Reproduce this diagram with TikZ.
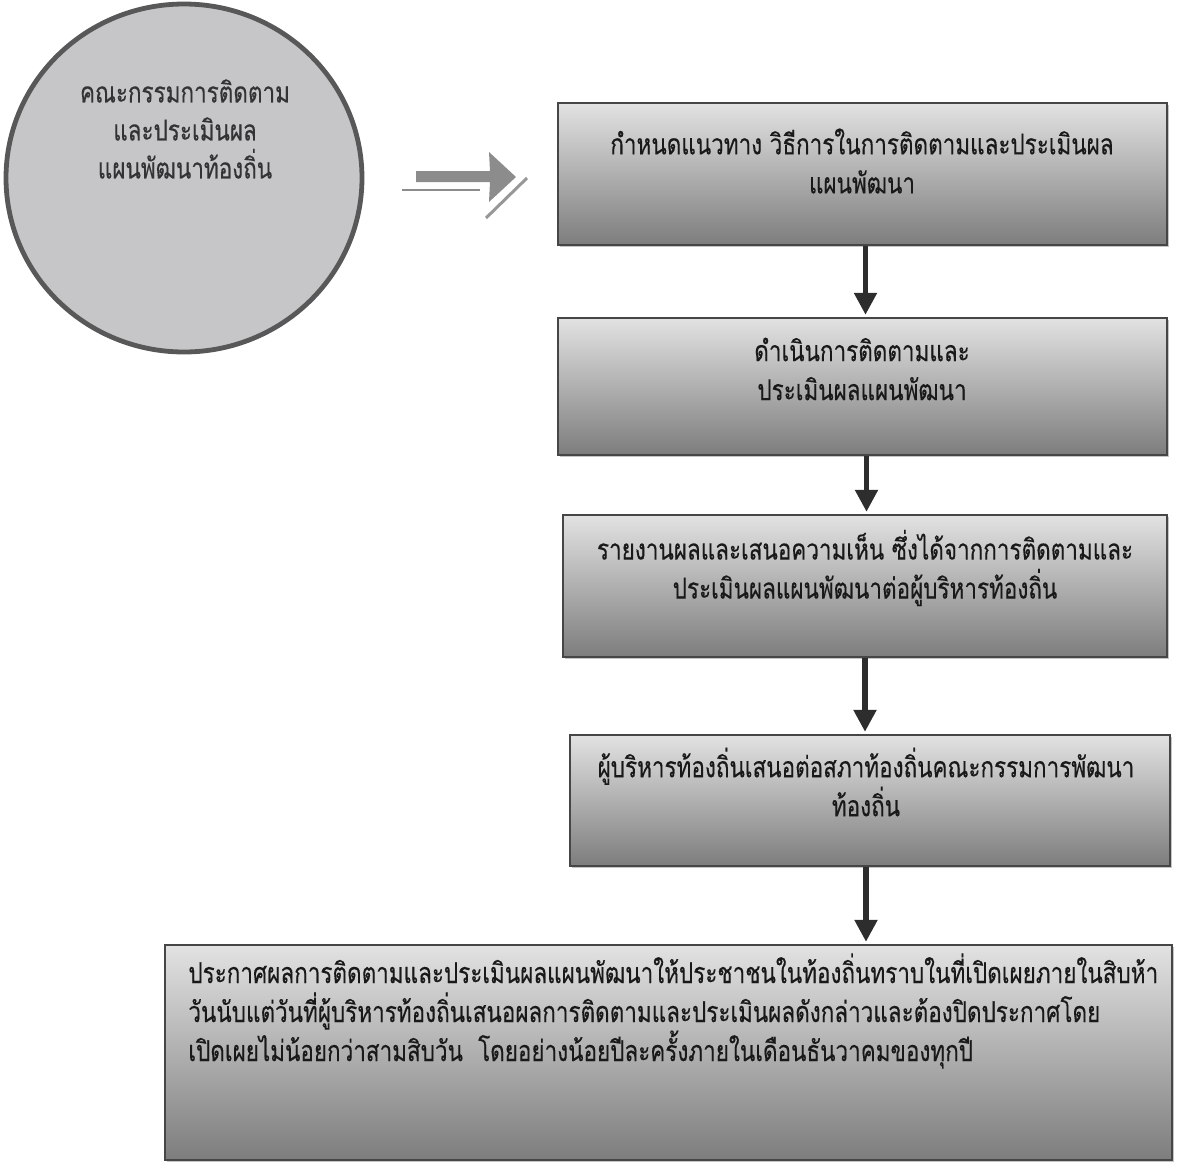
\documentclass[tikz,border=0pt]{standalone}
\usepackage{fontspec}
\newfontfamily\thaifont[Script=Thai, FakeStretch=0.78, FakeBold=0.3]{Loma}
\usetikzlibrary{arrows.meta,shadows,shapes.geometric}
\definecolor{boxtop}{RGB}{226,226,226}
\definecolor{boxbot}{RGB}{125,125,125}
\definecolor{boxline}{RGB}{70,70,70}
\definecolor{circfill}{RGB}{198,198,200}
\definecolor{circline}{RGB}{88,88,88}
\definecolor{arrowcol}{RGB}{45,45,45}
\definecolor{symgray}{RGB}{140,140,140}
\tikzset{
  stepbox/.style={draw=boxline, line width=1.2pt, top color=boxtop, bottom color=boxbot,
    drop shadow={shadow xshift=1.2pt, shadow yshift=-1.2pt, fill=black!45},
    inner sep=0pt},
  boxtext/.style={font=\thaifont\fontsize{14.4}{19.5}\selectfont, text=black!90, align=center, inner sep=0pt},
  circtext/.style={font=\thaifont\fontsize{14.4}{19}\selectfont, text=black!80, align=center, inner sep=0pt},
  flowarrow/.style={draw=arrowcol, line width=2.6pt, -{Triangle[width=11pt,length=11pt]}, shorten >=1pt}
}
\begin{document}
\begin{tikzpicture}[x=0.5pt,y=-0.5pt]
\useasboundingbox (0,0) rectangle (1184,1162);
% circle
\node[draw=circline, line width=2.4pt, fill=circfill, ellipse, minimum width=178pt, minimum height=174pt, inner sep=0pt] (circ) at (184,178) {};
\node[circtext] (ctext) at (185,129) {คณะกรรมการติดตาม\\และประเมินผล\\แผนพัฒนาท้องถิ่น};
% double arrow symbol
\fill[symgray] (416,171) -- (490,171) -- (489,152) -- (516,177) -- (489,202) -- (490,182) -- (416,182) -- cycle;
\draw[symgray, line width=1.2pt] (402,190) -- (480,190);
\draw[symgray!90, line width=1.5pt] (486,218) -- (527,178);
% boxes
\node[stepbox, minimum width=304.5pt, minimum height=71pt] (b1) at (862.5,174) {};
\node[stepbox, minimum width=304.5pt, minimum height=68.5pt] (b2) at (862.5,386.5) {};
\node[stepbox, minimum width=302pt, minimum height=71pt] (b3) at (865,586) {};
\node[stepbox, minimum width=300pt, minimum height=65.5pt] (b4) at (870,800.5) {};
\node[stepbox, minimum width=503.5pt, minimum height=107.5pt] (b5) at (668.5,1052.5) {};
% texts
\node[boxtext] (t1) at (862,161) {กำหนดแนวทาง วิธีการในการติดตามและประเมินผล\\แผนพัฒนา};
\node[boxtext] (t2) at (862,369) {ดำเนินการติดตามและ\\ประเมินผลแผนพัฒนา};
\node[boxtext] (t3) at (865,568) {รายงานผลและเสนอความเห็น ซึ่งได้จากการติดตามและ\\ประเมินผลแผนพัฒนาต่อผู้บริหารท้องถิ่น};
\node[boxtext] (t4) at (866,782) {ผู้บริหารท้องถิ่นเสนอต่อสภาท้องถิ่นคณะกรรมการพัฒนา\\ท้องถิ่น};
\node[boxtext, align=left, anchor=west] (t5) at (188,1011) {ประกาศผลการติดตามและประเมินผลแผนพัฒนาให้ประชาชนในท้องถิ่นทราบในที่เปิดเผยภายในสิบห้า\\วันนับแต่วันที่ผู้บริหารท้องถิ่นเสนอผลการติดตามและประเมินผลดังกล่าวและต้องปิดประกาศโดย\\เปิดเผยไม่น้อยกว่าสามสิบวัน\ \ โดยอย่างน้อยปีละครั้งภายในเดือนธันวาคมของทุกปี};
% arrows
\draw[flowarrow] ([xshift=1.5pt]b1.south) -- ([xshift=1.5pt]b1.south |- b2.north);
\draw[flowarrow] ([xshift=2pt]b2.south) -- ([xshift=2pt]b2.south |- b3.north);
\draw[flowarrow] (b3.south) -- (b3.south |- b4.north);
\draw[flowarrow] ([xshift=-2pt]b4.south) -- ([xshift=-2pt]b4.south |- b5.north);
\end{tikzpicture}
\end{document}
